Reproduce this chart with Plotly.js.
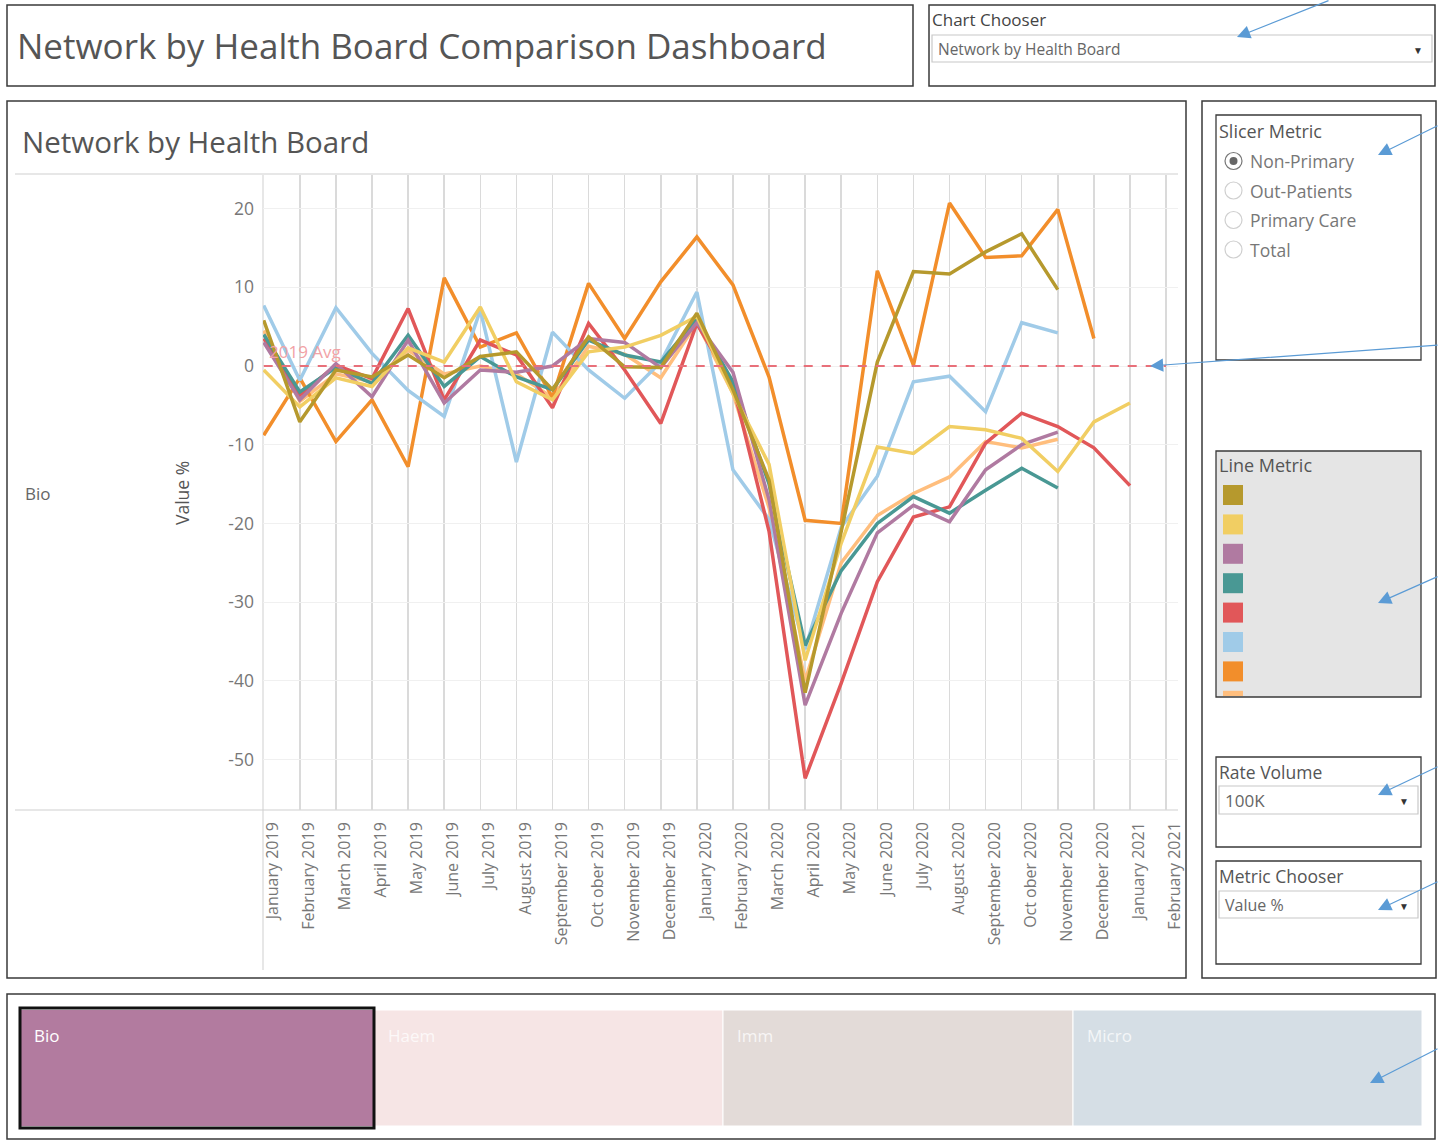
<!DOCTYPE html>
<html><head><meta charset="utf-8">
<script src="https://cdn.plot.ly/plotly-3.0.1.min.js"></script>
<style>html,body{margin:0;padding:0;background:#fff;overflow:hidden}#chart{width:1439px;height:1141px}</style>
</head><body><div id="chart"></div>
<script>
// ---------- DATA ----------
const months = ["January 2019","February 2019","March 2019","April 2019","May 2019","June 2019","July 2019","August 2019","September 2019","Oct ober 2019","November 2019","December 2019","January 2020","February 2020","March 2020","April 2020","May 2020","June 2020","July 2020","August 2020","September 2020","Oct ober 2020","November 2020","December 2020","January 2021","February 2021"];

const seriesNames = ["Line 1","Line 2","Line 3","Line 4","Line 5","Line 6","Line 7","Line 8"];
const seriesColors = ["#B6992D","#F1CE63","#B07AA1","#499894","#E15759","#A0CBE8","#F28E2B","#FFBE7D"];

const olive = [5.8,-7.1,-0.5,-1.4,1.4,-1.5,1.2,1.8,-3.0,3.7,-0.1,-0.2,6.7,-3.0,-14.5,-41.5,-21.0,0.5,12.0,11.7,14.5,16.8,9.7,null,null,null];
const yellow = [-0.5,-5.2,-1.5,-2.6,2.3,0.5,7.5,-2.0,-4.3,1.8,2.4,3.9,6.3,-3.5,-12.5,-37.4,-22.5,-10.3,-11.1,-7.7,-8.1,-9.2,-13.4,-7.1,-4.7,null];
const purple = [3.0,-4.3,0.3,-3.9,3.3,-4.7,-0.5,-0.8,0.0,3.5,3.0,-0.2,5.5,-0.8,-17.0,-43.1,-31.4,-21.2,-17.7,-19.8,-13.2,-10.0,-8.4,null,null,null];
const teal = [4.0,-3.3,-0.2,-2.2,3.9,-2.6,1.2,-1.4,-3.0,3.3,1.4,0.5,6.0,-2.0,-15.0,-35.5,-26.0,-20.0,-16.6,-18.7,-15.8,-13.0,-15.5,null,null,null];
const red = [3.5,-3.7,0.1,-1.6,7.3,-4.3,3.3,1.4,-5.3,5.4,-0.5,-7.3,5.4,-2.5,-21.0,-52.4,-40.3,-27.4,-19.2,-17.9,-9.8,-6.0,-7.7,-10.4,-15.2,null];
const lightBlue = [7.7,-1.8,7.4,1.6,-3.1,-6.4,7.1,-12.2,4.3,-0.5,-4.1,0.5,9.4,-13.2,-19.5,-36.0,-20.5,-14.0,-2.0,-1.3,-5.8,5.5,4.2,null,null,null];
const orange = [-8.8,-1.5,-9.6,-4.3,-12.8,11.2,2.4,4.2,-4.0,10.5,3.5,10.7,16.4,10.3,-1.4,-19.6,-20.0,12.1,0.1,20.7,13.8,14.0,19.9,3.5,null,null];
const lightOrange = [4.5,-4.5,-1.0,-2.0,2.0,-1.0,0.0,-1.0,-4.0,2.5,1.5,-1.5,5.5,-3.5,-18.0,-40.0,-25.0,-19.0,-16.2,-14.1,-9.6,-10.4,-9.3,null,null,null];
const seriesValues = [olive,yellow,purple,teal,red,lightBlue,orange,lightOrange];

const yTickVals = [20,10,0,-10,-20,-30,-40,-50];
const yTickText = ["20","10","0","-10","-20","-30","-40","-50"];
const avgLabel = "2019 Avg";
const avgValue = 0;

const dashTitle = "Network by Health Board Comparison Dashboard";
const chartTitle = "Network by Health Board";
const chartChooserValue = "Network by Health Board";
const slicerOptions = ["Non-Primary","Out-Patients","Primary Care","Total"];
const rateVolume = "100K";
const metricChoice = "Value %";
const tiles = ["Bio","Haem","Imm","Micro"];
const tileColors = ["#B27B9F","#F6E5E5","#E3DBD8","#D5DEE5"];

// ---------- LAYOUT HELPERS ----------
const W = 1439, H = 1141;
const X = p => p / W;
const Y = p => 1 - p / H;
const FONT = "Open Sans, Noto Sans, sans-serif";

const traces = [];
for (let i = seriesValues.length - 1; i >= 0; i--) {
  traces.push({
    type: "scatter", mode: "lines", name: seriesNames[i],
    x: months, y: seriesValues[i],
    line: {color: seriesColors[i], width: 3.5},
    connectgaps: false, hoverinfo: "skip", showlegend: false
  });
}

const shapes = [];
const ann = [];
function rect(x0,y0,x1,y1,line,fill,width,layer){
  shapes.push({type:"rect",xref:"paper",yref:"paper",x0:X(x0),x1:X(x1),y0:Y(y1),y1:Y(y0),
    line:{color:line||"rgba(0,0,0,0)",width:width===undefined?1.5:width},fillcolor:fill||"rgba(0,0,0,0)",layer:layer||"below"});
}
function hline(x0,x1,y,color,w){shapes.push({type:"line",xref:"paper",yref:"paper",x0:X(x0),x1:X(x1),y0:Y(y),y1:Y(y),line:{color:color,width:w||1},layer:"below"});}
function vline(x,y0,y1,color,w){shapes.push({type:"line",xref:"paper",yref:"paper",x0:X(x),x1:X(x),y0:Y(y0),y1:Y(y1),line:{color:color,width:w||1},layer:"below"});}
function text(t,x,y,size,color,opts){
  ann.push(Object.assign({text:t,xref:"paper",yref:"paper",x:X(x),y:Y(y),xanchor:"left",yanchor:"middle",
    showarrow:false,font:{family:FONT,size:size,color:color}},opts||{}));
}
function arrow(tx,ty,sx,sy){
  ann.push({text:"",xref:"paper",yref:"paper",x:X(tx),y:Y(ty),ax:sx-tx,ay:sy-ty,axref:"pixel",ayref:"pixel",
    showarrow:true,arrowhead:2,arrowsize:2.2,arrowwidth:1.2,arrowcolor:"#5B9BD5"});
}
function dropdown(x0,y0,x1,y1,t,size){
  rect(x0,y0,x1,y1,"#c8c8c8","#ffffff",1.2);
  text(t,x0+4,(y0+y1)/2,size,"#666");
  text("▼",x1-14,(y0+y1)/2+1,10,"#333",{xanchor:"center"});
}

// Title box
rect(7,5,913,86,"#3a3a3a",null,1.5);
text(dashTitle,15,46,35,"#555");
// Chart chooser box
rect(929,5,1435,86,"#3a3a3a",null,1.5);
text("Chart Chooser",930,20,17,"#444");
dropdown(932,35,1432,62,chartChooserValue,15.5);

// Main chart box
rect(7,101,1186,978,"#3a3a3a",null,1.5);
text(chartTitle,20,141,29.5,"#555");
hline(15,1178,174,"#cfcfcf",1);
hline(15,1178,810,"#cfcfcf",1);
vline(263,175,970,"#cfcfcf",1);
text("Bio",23,493,17,"#666");
text("Value %",182,493,17.5,"#555",{textangle:-90,xanchor:"center"});

// Right panel
rect(1202,101,1436,978,"#3a3a3a",null,1.5);
rect(1216,115,1421,360,"#3a3a3a",null,1.3);
text("Slicer Metric",1217,131,18,"#555");
slicerOptions.forEach((o,i)=>{
  const cy = 161 + i*29.5;
  shapes.push({type:"circle",xref:"paper",yref:"paper",x0:X(1225),x1:X(1242),y0:Y(cy+8.5),y1:Y(cy-8.5),line:{color:i===0?"#777":"#cfcfcf",width:1.2},fillcolor:"#fff",layer:"above"});
  if(i===0) shapes.push({type:"circle",xref:"paper",yref:"paper",x0:X(1229.5),x1:X(1237.5),y0:Y(cy+4),y1:Y(cy-4),line:{color:"#666",width:0},fillcolor:"#666",layer:"above"});
  text(o,1248,cy,17.5,"#777");
});

rect(1216,451,1421,697,"#3a3a3a","#E5E5E5",1.3);
text("Line Metric",1217,465,18,"#555");
seriesColors.forEach((c,i)=>{
  const top = 485 + i*29.4;
  const bot = Math.min(top+20, 696);
  rect(1223,top,1243,bot,null,c,0);
});

rect(1216,757,1421,847,"#3a3a3a",null,1.3);
text("Rate Volume",1217,772,17.5,"#555");
dropdown(1219,786,1418,814,rateVolume,17);

rect(1216,861,1421,964,"#3a3a3a",null,1.3);
text("Metric Chooser",1217,876,17.5,"#555");
dropdown(1219,891,1418,918,metricChoice,16);

// Bottom tiles
rect(7,994,1435,1139,"#3a3a3a",null,1.5);
const tileX = [20,374,723,1073,1422];
tiles.forEach((t,i)=>{
  rect(tileX[i],1010,tileX[i+1],1126,"#ffffff",tileColors[i],i===0?0:1);
  text(t,tileX[i]+12,1035,17,i===0?"#ffffff":"rgba(255,255,255,0.75)");
});
rect(20,1008,374,1128,"#111111",null,3,"above");

// Reference line
shapes.push({type:"line",xref:"x",yref:"y",x0:0,x1:25,y0:avgValue,y1:avgValue,line:{color:"#E8707A",width:2,dash:"dash"},layer:"above"});
ann.push({text:avgLabel,xref:"x",yref:"y",x:0,y:avgValue,xanchor:"left",yanchor:"bottom",xshift:3,yshift:1,showarrow:false,font:{family:FONT,size:17,color:"#F2A2A6"}});

// Blue annotation arrows
arrow(1237,37,1330,-2);
arrow(1378,155,1441,125);
arrow(1150,366,1441,345);
arrow(1378,603,1441,576);
arrow(1378,795,1441,766);
arrow(1378,910,1441,881);
arrow(1370,1083,1441,1048);

const layout = {
  width: W, height: H,
  margin: {l:0,r:0,t:0,b:0},
  paper_bgcolor: "#ffffff", plot_bgcolor: "#ffffff",
  showlegend: false,
  font: {family: FONT, color: "#666"},
  xaxis: {
    type: "category", domain: [X(263), X(1178)], range: [-0.02, 25.33],
    showgrid: true, gridcolor: "#dadada", gridwidth: 1.5,
    zeroline: false, showline: false, ticks: "",
    tickangle: -90, tickfont: {family: FONT, size: 16, color: "#777"},
    ticklabelstandoff: 8, ticklabelshift: 9, fixedrange: true
  },
  yaxis: {
    domain: [Y(810), Y(175)], range: [-56.42, 24.27],
    tickvals: yTickVals, ticktext: yTickText,
    showgrid: true, gridcolor: "#f0f0f0", gridwidth: 1,
    zeroline: false, showline: false, ticks: "",
    tickfont: {family: FONT, size: 17.5, color: "#777"},
    ticklabelstandoff: 8, fixedrange: true
  },
  shapes: shapes,
  annotations: ann
};

Plotly.newPlot("chart", traces, layout, {staticPlot: true, displayModeBar: false});
</script>
</body></html>
